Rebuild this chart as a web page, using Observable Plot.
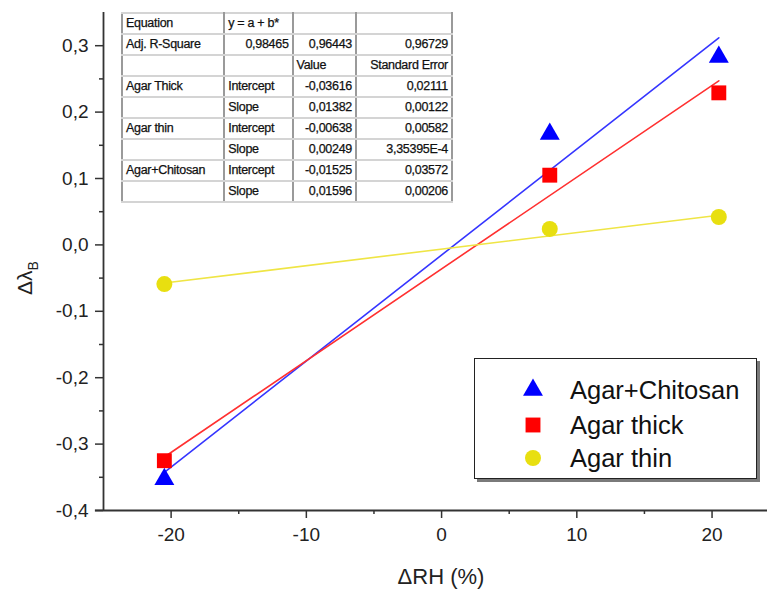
<!DOCTYPE html>
<html>
<head>
<meta charset="utf-8">
<script src="https://cdn.jsdelivr.net/npm/d3@7"></script>
<script src="https://cdn.jsdelivr.net/npm/@observablehq/plot@0.6"></script>
<style>
  body { margin: 0; background: #fff; font-family: Arial, "Liberation Sans", sans-serif; }
  #wrap { position: relative; width: 767px; height: 592px; overflow: hidden; }
  #fit { position: absolute; left: 121px; top: 12px; width: 332px; height: 186px;
         border-collapse: collapse; border: 2px solid #333; font-size: 12.5px; color: #111;
         background: #fff; letter-spacing: -0.3px; -webkit-text-stroke: 0.25px #111; }
  #fit td { border-top: 2px solid #d4d4d4; border-bottom: 2px solid #d4d4d4;
            border-left: 2px solid #9a9a9a; border-right: 2px solid #9a9a9a;
            padding: 0 3px; height: 19px; white-space: nowrap; line-height: 1; }
  #fit td.r { text-align: right; }
  #legend { position: absolute; left: 474px; top: 358px; width: 281px; height: 119px;
            border: 1.5px solid #222; box-shadow: 3px 3px 0 #7a7a7a; background: #fff; }
  .lrow { position: absolute; left: 0; height: 30px; display: flex; align-items: center; }
  .lrow svg { position: absolute; left: 46px; }
  .lrow span { position: absolute; left: 95px; font-size: 25.5px; color: #111; white-space: nowrap; }
  #xlabel { position: absolute; left: 0; width: 882px; top: 564px; text-align: center; font-size: 22px; color: #222; }
  #ylabel { position: absolute; left: 27px; top: 278px; transform: translate(-50%, -50%) rotate(-90deg);
            font-size: 21px; color: #222; white-space: nowrap; }
  #ylabel sub { font-size: 14px; }
  svg text { -webkit-text-stroke: 0.2px #222; }
</style>
</head>
<body>
<div id="wrap"></div>
<script>
// ---- data ----
const seriesNames = ["Agar+Chitosan", "Agar thick", "Agar thin"];
const xValues = [-20.5, 8, 20.5];
const chitosanY = [-0.353, 0.167, 0.283];
const thickY = [-0.325, 0.105, 0.229];
const thinY = [-0.059, 0.024, 0.042];
const intercepts = [-0.01525, -0.03616, -0.00638];   // Chitosan, thick, thin
const slopes = [0.01596, 0.01382, 0.00249];
const xMajorTicks = [-20, -10, 0, 10, 20];
const xMinorTicks = [-15, -5, 5, 15];
const yMajorTicks = [-0.4, -0.3, -0.2, -0.1, 0.0, 0.1, 0.2, 0.3];
const yMinorTicks = [-0.35, -0.25, -0.15, -0.05, 0.05, 0.15, 0.25];
const tableRows = [
  ["Equation", "y = a + b*", "", ""],
  ["Adj. R-Square", "0,98465", "0,96443", "0,96729"],
  ["", "", "Value", "Standard Error"],
  ["Agar Thick", "Intercept", "-0,03616", "0,02111"],
  ["", "Slope", "0,01382", "0,00122"],
  ["Agar thin", "Intercept", "-0,00638", "0,00582"],
  ["", "Slope", "0,00249", "3,35395E-4"],
  ["Agar+Chitosan", "Intercept", "-0,01525", "0,03572"],
  ["", "Slope", "0,01596", "0,00206"]
];

// ---- styles ----
const markColors = ["#0000ff", "#ff0000", "#e8df10"];
const lineColors = ["#3535ff", "#ff3030", "#efe545"];
const symbols = ["triangle", "square", "circle"];
const radii = [7.4, 8.4, 8];

const seriesY = [chitosanY, thickY, thinY];
const points = seriesY.flatMap((ys, i) => ys.map((y, j) => ({series: seriesNames[i], x: xValues[j], y, i})));
const fitLines = seriesNames.flatMap((s, i) => [xValues[0], xValues[xValues.length - 1]].map(x => ({series: s, x, y: intercepts[i] + slopes[i] * x, i})));

const fmtY = d => d.toFixed(1).replace(".", ",");
const axisColor = "#333";

const chart = Plot.plot({
  width: 767, height: 592,
  marginLeft: 103, marginRight: 0, marginTop: 12, marginBottom: 82,
  style: {fontFamily: "Arial, 'Liberation Sans', sans-serif", fontSize: "19px", color: "#222", background: "transparent"},
  x: {domain: [-25, 24.1]},
  y: {domain: [-0.4, 0.35]},
  marks: [
    Plot.axisX({ticks: xMajorTicks, tickSize: 8, tickPadding: 9, tickFormat: d => String(d), label: null, stroke: axisColor, strokeWidth: 1.5}),
    Plot.axisX({ticks: xMinorTicks, tickSize: 4, tickFormat: () => "", label: null, stroke: axisColor, strokeWidth: 1.5}),
    Plot.axisY({ticks: yMajorTicks, tickSize: 8, tickPadding: 7, tickFormat: fmtY, label: null, stroke: axisColor, strokeWidth: 1.5}),
    Plot.axisY({ticks: yMinorTicks, tickSize: 4, tickFormat: () => "", label: null, stroke: axisColor, strokeWidth: 1.5}),
    Plot.ruleX([-25], {y1: -0.4, y2: 0.35, stroke: axisColor, strokeWidth: 1.8}),
    Plot.ruleY([-0.4], {x1: -25.6, x2: 24.1, stroke: axisColor, strokeWidth: 1.8}),
    ...seriesNames.map((s, i) => Plot.line(fitLines.filter(d => d.i === i), {x: "x", y: "y", stroke: lineColors[i], strokeWidth: 1.6})),
    ...seriesNames.map((s, i) => Plot.dot(points.filter(d => d.i === i), {x: "x", y: "y", symbol: symbols[i], r: radii[i], fill: markColors[i], stroke: "none"}))
  ]
});

const wrap = document.getElementById("wrap");
wrap.appendChild(chart);

// fit table
const table = document.createElement("table");
table.id = "fit";
const colWidths = [106, 68, 62, 96];
const rightAlign = (r, c) => (r === 1 && c > 0) || (c === 2 && r >= 3) || (c === 3 && r >= 1);
tableRows.forEach((row, r) => {
  const tr = document.createElement("tr");
  row.forEach((cell, c) => {
    const td = document.createElement("td");
    td.textContent = cell;
    td.style.width = colWidths[c] + "px";
    if (rightAlign(r, c)) td.className = "r";
    tr.appendChild(td);
  });
  table.appendChild(tr);
});
wrap.appendChild(table);

// legend
const legend = document.createElement("div");
legend.id = "legend";
const rowTops = [16, 51, 84];
seriesNames.forEach((s, i) => {
  const row = document.createElement("div");
  row.className = "lrow";
  row.style.top = rowTops[i] + "px";
  const sym = d3.symbol(i === 0 ? d3.symbolTriangle : i === 1 ? d3.symbolSquare : d3.symbolCircle, Math.PI * radii[i] * radii[i])();
  row.innerHTML = `<svg width="24" height="24" viewBox="-12 -12 24 24"><path d="${sym}" fill="${markColors[i]}"/></svg><span>${s}</span>`;
  legend.appendChild(row);
});
wrap.appendChild(legend);

// axis labels
const xl = document.createElement("div");
xl.id = "xlabel";
xl.textContent = "ΔRH (%)";
wrap.appendChild(xl);
const yl = document.createElement("div");
yl.id = "ylabel";
yl.innerHTML = "Δλ<sub>B</sub>";
wrap.appendChild(yl);
</script>
</body>
</html>
